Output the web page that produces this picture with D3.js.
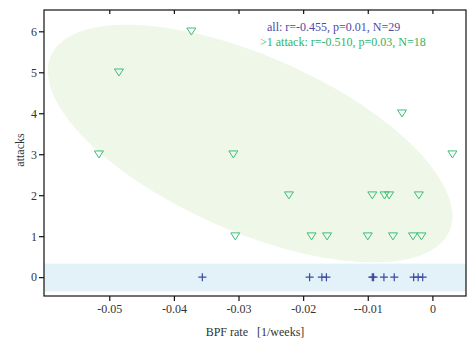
<!DOCTYPE html>
<html>
<head>
<meta charset="utf-8">
<script src="https://cdn.jsdelivr.net/npm/d3@7"></script>
<style>
  body { margin: 0; background: #fff; }
  svg { display: block; }
  svg text { font-family: "Liberation Serif", "DejaVu Serif", serif; }
</style>
</head>
<body>
<svg id="chart" width="473" height="339"></svg>
<script>
// attacks >= 1 (triangles)
const attackRate = [-0.0516, -0.0485, -0.0373, -0.0308, -0.0305, -0.0047, 0.0031,
    -0.0222, -0.0093, -0.0074, -0.0067, -0.0021,
    -0.0187, -0.0163, -0.0100, -0.0061, -0.0030, -0.0017];
const attackCount = [3, 5, 6, 3, 1, 4, 3,
    2, 2, 2, 2, 2,
    1, 1, 1, 1, 1, 1];

// no attacks (crosses)
const noAttackRate = [-0.0356, -0.0190, -0.0171, -0.0164, -0.0093, -0.0091,
    -0.0075, -0.0059, -0.0029, -0.0022, -0.0015];

const xTicks = [-0.05, -0.04, -0.03, -0.02, -0.01, 0];
const xTickLabels = ['-0.05', '-0.04', '-0.03', '-0.02', '--0.01', '0'];
const yTicks = [0, 1, 2, 3, 4, 5, 6];
const yTickLabels = ['0', '1', '2', '3', '4', '5', '6'];

// shaded regions (data units)
const zeroBand = [-0.35, 0.33];
const ellipseCenter = [-0.0282, 3.26];
const ellipseRadius = [0.0313, 2.90];
const ellipseCorr = -0.61;

const statLines = [
    {text: 'all: r=-0.455, p=0.01, N=29', color: '#4b4ba6'},
    {text: '>1 attack: r=-0.510, p=0.03, N=18', color: '#2fb36a'}
];

const margin = {left: 44, top: 10, right: 7, bottom: 43};
const width = 473, height = 339;

let svg = d3.select('#chart');

let x = d3.scaleLinear()
    .domain([-0.0601, 0.0052])
    .range([margin.left, width - margin.right]);

let y = d3.scaleLinear()
    .domain([-0.46, 6.52])
    .range([height - margin.bottom, margin.top]);

// ellipse (drawn from center / radii / correlation)
let L21 = ellipseCorr * ellipseRadius[1];
let L22 = ellipseRadius[1] * Math.sqrt(1 - ellipseCorr * ellipseCorr);
let ellipsePts = d3.range(0, 361, 3).map(a => {
    let t = a * Math.PI / 180;
    return [
        x(ellipseCenter[0] + ellipseRadius[0] * Math.cos(t)),
        y(ellipseCenter[1] + L21 * Math.cos(t) + L22 * Math.sin(t))
    ];
});

svg.append('path')
    .attr('d', d3.line()(ellipsePts) + 'Z')
    .attr('fill', '#eff7e9');

svg.append('rect')
    .attr('x', x.range()[0])
    .attr('width', x.range()[1] - x.range()[0])
    .attr('y', y(zeroBand[1]))
    .attr('height', y(zeroBand[0]) - y(zeroBand[1]))
    .attr('fill', '#e3f2f8');

// frame
svg.append('rect')
    .attr('x', x.range()[0])
    .attr('y', y.range()[1])
    .attr('width', x.range()[1] - x.range()[0])
    .attr('height', y.range()[0] - y.range()[1])
    .attr('fill', 'none')
    .attr('stroke', '#111')
    .attr('stroke-width', 1.2);

let styleAxis = g => {
    g.attr('font-family', null).attr('font-size', null);
    g.select('.domain').remove();
    g.selectAll('line').attr('stroke', '#111').attr('stroke-width', 1.2);
    g.selectAll('text')
        .style('font-family', '"Liberation Serif", serif')
        .style('font-size', '12px')
        .attr('fill', '#333');
};

svg.append('g')
    .attr('transform', `translate(0,${y.range()[0]})`)
    .call(d3.axisBottom(x).tickValues(xTicks).tickSize(5).tickPadding(3)
        .tickFormat((d, i) => xTickLabels[i]))
    .call(styleAxis);

svg.append('g')
    .attr('transform', `translate(0,${y.range()[1]})`)
    .call(d3.axisTop(x).tickValues(xTicks).tickSize(-4).tickFormat(''))
    .call(styleAxis);

svg.append('g')
    .attr('transform', `translate(${x.range()[0]},0)`)
    .call(d3.axisLeft(y).tickValues(yTicks).tickSize(5).tickPadding(2)
        .tickFormat((d, i) => yTickLabels[i]))
    .call(styleAxis);

// markers
svg.append('g')
    .selectAll('path')
    .data(attackRate.map((r, i) => ({r: r, n: attackCount[i]})))
    .enter()
    .append('path')
        .attr('transform', d => `translate(${x(d.r)},${y(d.n)})`)
        .attr('d', 'M-4.5,-3.3L4.5,-3.3L0,3.7Z')
        .attr('fill', 'none')
        .attr('stroke', '#3dbd78')
        .attr('stroke-width', 1);

svg.append('g')
    .selectAll('path')
    .data(noAttackRate)
    .enter()
    .append('path')
        .attr('transform', d => `translate(${x(d)},${y(0)})`)
        .attr('d', 'M-4,0H4M0,-4V4')
        .attr('stroke', '#3b4aa0')
        .attr('stroke-width', 1.2);

// stats text
svg.append('g')
    .selectAll('text')
    .data(statLines)
    .enter()
    .append('text')
        .attr('x', (d, i) => i === 0 ? 267 : 260)
        .attr('y', (d, i) => 31 + i * 15)
        .style('font-size', '12px')
        .attr('fill', d => d.color)
        .text(d => d.text);

// axis titles
svg.append('text')
    .attr('x', (x.range()[0] + x.range()[1]) / 2)
    .attr('y', 336)
    .attr('text-anchor', 'middle')
    .style('font-size', '12px')
    .style('white-space', 'pre')
    .attr('fill', '#333')
    .text('BPF rate   [1/weeks]');

svg.append('text')
    .attr('transform', 'translate(24,150) rotate(-90)')
    .attr('text-anchor', 'middle')
    .style('font-size', '12px')
    .attr('fill', '#333')
    .text('attacks');
</script>
</body>
</html>
